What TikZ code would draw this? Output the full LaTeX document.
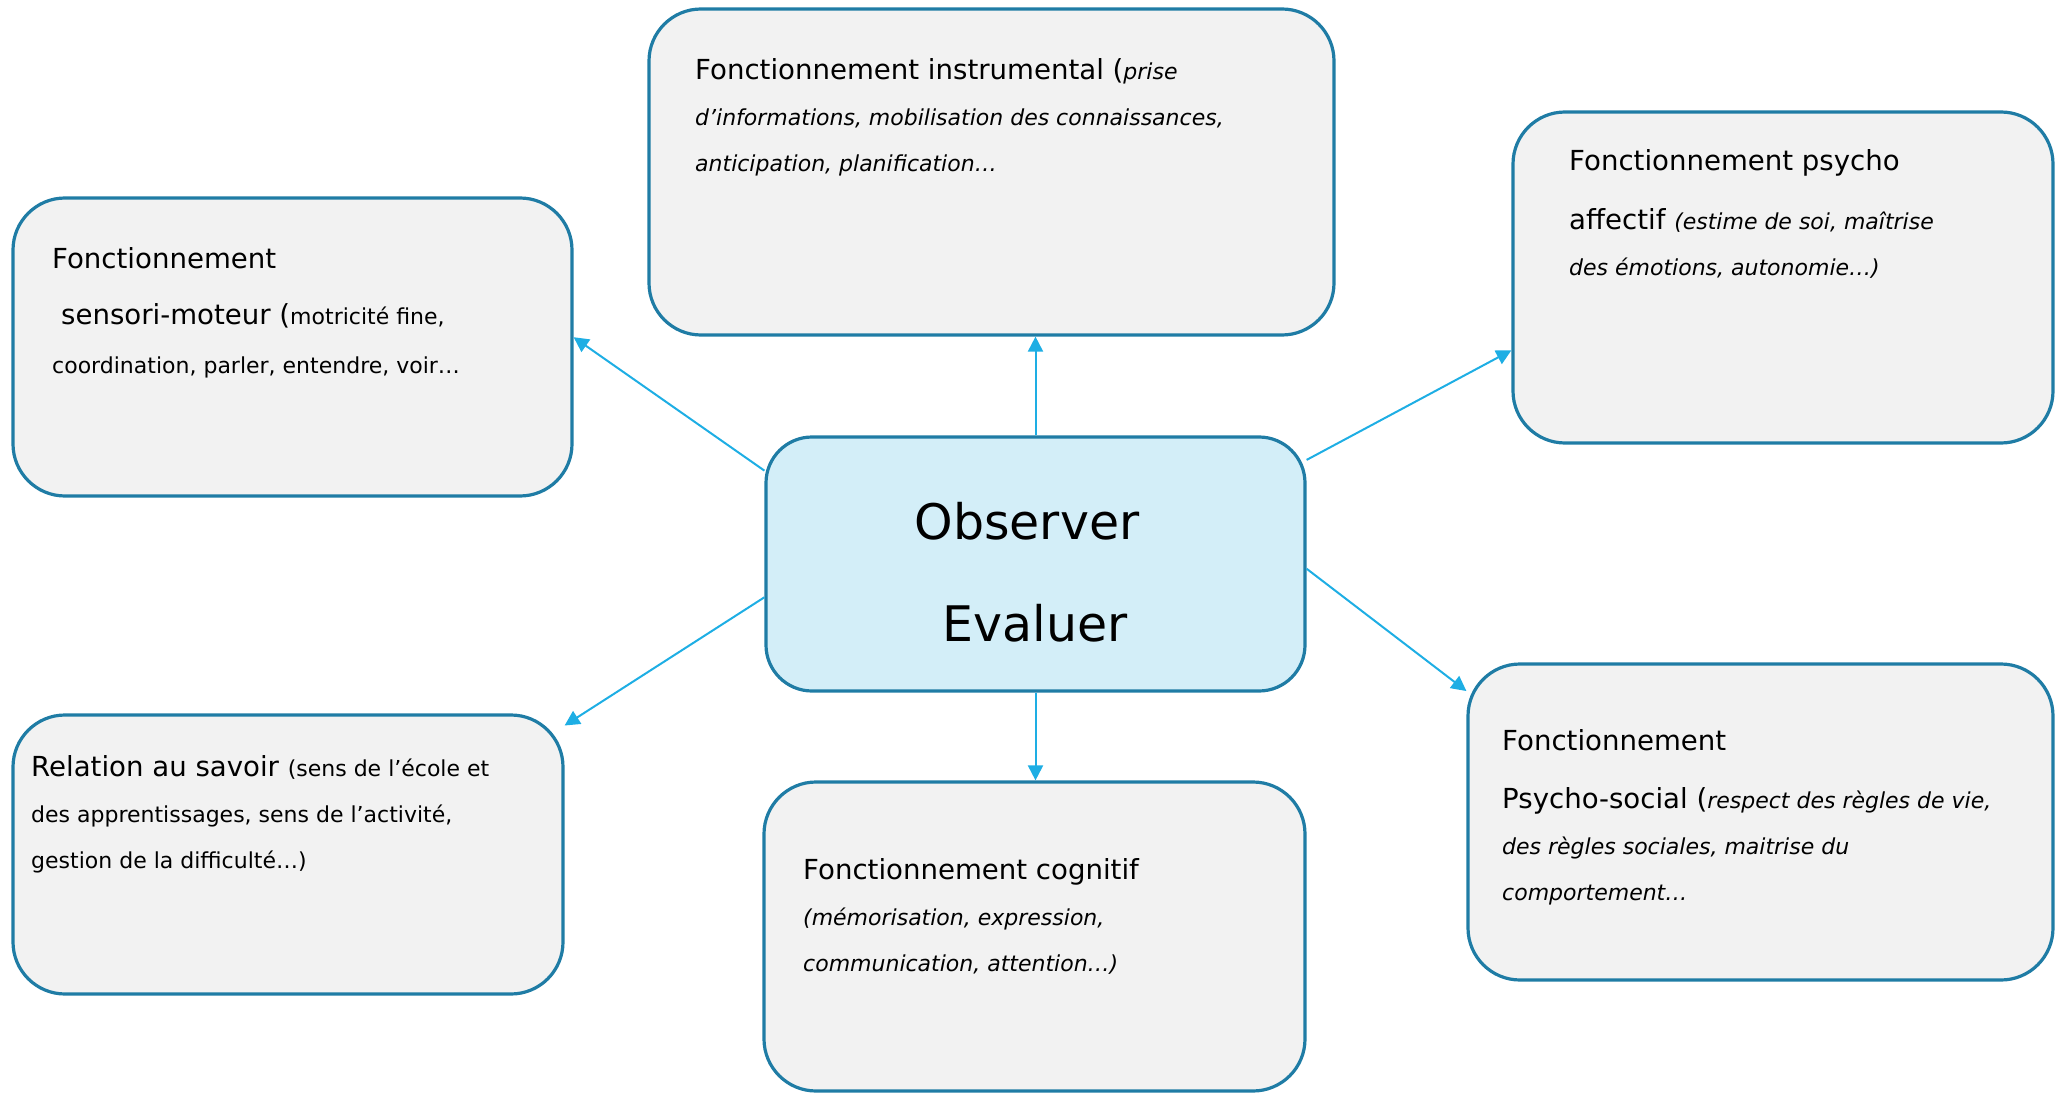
\documentclass[tikz,border=0pt]{standalone}
\usepackage{fontspec}
\setmainfont{DejaVu Sans}
\usetikzlibrary{arrows.meta}
\definecolor{boxline}{HTML}{1F7CA5}
\definecolor{boxfill}{HTML}{F2F2F2}
\definecolor{hubfill}{HTML}{D3EEF8}
\definecolor{linkcol}{HTML}{1EAEE4}
\newcommand{\grand}{\fontsize{27.6}{46}\selectfont}
\tikzset{box/.style={draw=boxline,fill=boxfill,line width=3.2pt,rounded corners=52pt,inner sep=0pt},
  hub/.style={box,fill=hubfill,rounded corners=46pt},
  box text/.style={anchor=base west,inner sep=0pt,align=left,font=\fontsize{22}{46}\selectfont},
  link/.style={draw=linkcol,line width=2pt,-{Triangle[length=15pt,width=15pt]}}}

\begin{document}
\begin{tikzpicture}[x=1pt,y=-1pt]
\useasboundingbox (0,0) rectangle (2057,1094);
% boxes
\node[hub,minimum width=539pt,minimum height=254pt] (obs) at (1035.5,564) {};
\node[box,minimum width=685pt,minimum height=326pt] (ins) at (991.5,172) {};
\node[box,minimum width=559pt,minimum height=298pt] (sen) at (292.5,347) {};
\node[box,minimum width=540pt,minimum height=331pt] (aff) at (1783,277.5) {};
\node[box,minimum width=550pt,minimum height=279pt] (rel) at (288,854.5) {};
\node[box,minimum width=541pt,minimum height=309pt] (cog) at (1034.5,936.5) {};
\node[box,minimum width=585pt,minimum height=316pt] (soc) at (1760.5,822) {};
% texts (placed by the baseline of their last line)
\node[font=\fontsize{49}{102}\selectfont,align=center,anchor=base,inner sep=0pt] (obs-t) at (1027,641) {Observer\\\hspace*{16pt}Evaluer};
\node[box text] (ins-t) at (695,172) {{\grand Fonctionnement instrumental (}\textit{prise}\\
  \textit{d’informations, mobilisation des connaissances,}\\
  \textit{anticipation, planification…}};
\node[box text] (sen-t) at (52,373) {{\grand Fonctionnement}\\[10pt]
  \hspace*{9pt}{\grand sensori-moteur (}motricité fine,\\[3pt]
  coordination, parler, entendre, voir…};
\node[box text] (aff-t) at (1569,276) {{\grand Fonctionnement psycho}\\[13pt]
  {\grand affectif }\textit{(estime de soi, maîtrise}\\
  \textit{des émotions, autonomie…)}};
\node[box text] (rel-t) at (31,868) {{\grand Relation au savoir }(sens de l’école et\\
  des apprentissages, sens de l’activité,\\
  gestion de la difficulté…)};
\node[box text] (cog-t) at (803,971) {{\grand Fonctionnement cognitif}\\
  \textit{(mémorisation, expression,}\\
  \textit{communication, attention…)}};
\node[box text] (soc-t) at (1502,900) {{\grand Fonctionnement}\\[12pt]
  {\grand Psycho-social (}\textit{respect des règles de vie,}\\
  \textit{des règles sociales, maitrise du}\\
  \textit{comportement…}};
% links
\draw[link] (obs.161) -- (sen.2);
\draw[link] (obs.north) -- (obs.north |- ins.south);
\draw[link] (obs.21) -- (aff.195);
\draw[link] (obs.187) -- (rel.25);
\draw[link] (obs.south) -- (obs.south |- cog.north);
\draw[link] (obs.-1) -- (soc.156);
\end{tikzpicture}
\end{document}
